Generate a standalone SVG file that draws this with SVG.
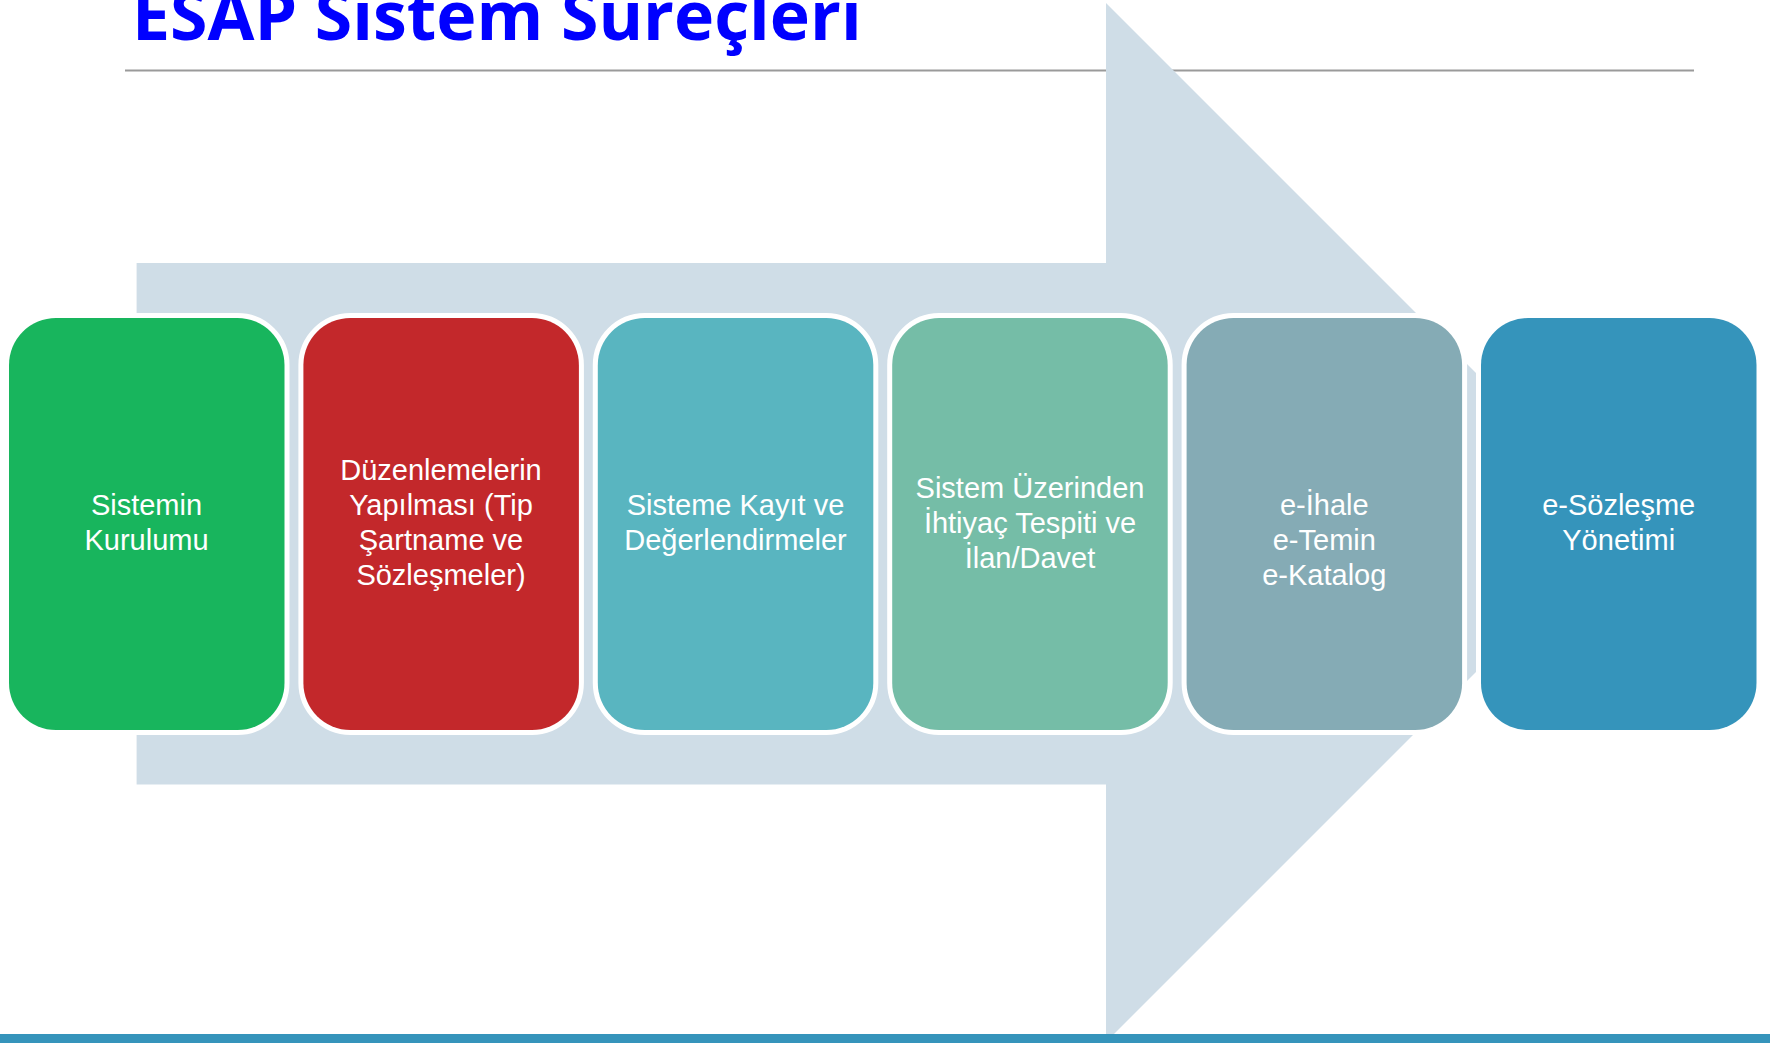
<svg xmlns="http://www.w3.org/2000/svg" width="1770" height="1043" viewBox="0 0 1770 1043">
  <style>
    .title { font-family: "Open Sans", "Liberation Sans", sans-serif; font-weight: 700; font-size: 68px; fill: #0000FF; }
    .box { stroke: #FFFFFF; stroke-width: 10; paint-order: stroke; }
    .lbl { font-family: "Liberation Sans", "Noto Sans", sans-serif; font-size: 29px; fill: #FFFFFF; text-anchor: middle; }
  </style>
  <rect x="0" y="0" width="1770" height="1043" fill="#FFFFFF"/>
  <g id="title">
    <text class="title" x="132" y="40">ESAP Sistem Süreçleri</text>
    <line x1="125" y1="70.5" x2="1694" y2="70.5" stroke="#9A9A9A" stroke-width="2"/>
  </g>
  <g id="connectors">
    <polygon id="big-arrow" points="136.6,263 1106,263 1106,3 1625.5,522.5 1106,1042 1106,784.5 136.6,784.5" fill="#CFDDE7"/>
  </g>
  <g id="node1">
    <rect class="box" x="9" y="318" width="275.5" height="412" rx="47" ry="47" fill="#18B55D"/>
    <text class="lbl" x="146.5" y="515">Sistemin</text>
    <text class="lbl" x="146.5" y="550">Kurulumu</text>
  </g>
  <g id="node2">
    <rect class="box" x="303.4" y="318" width="275.5" height="412" rx="47" ry="47" fill="#C3282B"/>
    <text class="lbl" x="441" y="480">Düzenlemelerin</text>
    <text class="lbl" x="441" y="515">Yapılması (Tip</text>
    <text class="lbl" x="441" y="550">Şartname ve</text>
    <text class="lbl" x="441" y="585">Sözleşmeler)</text>
  </g>
  <g id="node3">
    <rect class="box" x="597.8" y="318" width="275.5" height="412" rx="47" ry="47" fill="#59B5C0"/>
    <text class="lbl" x="735.5" y="515">Sisteme Kayıt ve</text>
    <text class="lbl" x="735.5" y="550">Değerlendirmeler</text>
  </g>
  <g id="node4">
    <rect class="box" x="892.2" y="318" width="275.5" height="412" rx="47" ry="47" fill="#75BDA7"/>
    <text class="lbl" x="1030" y="497.5">Sistem Üzerinden</text>
    <text class="lbl" x="1030" y="532.5">İhtiyaç Tespiti ve</text>
    <text class="lbl" x="1030" y="567.5">İlan/Davet</text>
  </g>
  <g id="node5">
    <rect class="box" x="1186.6" y="318" width="275.5" height="412" rx="47" ry="47" fill="#85ABB5"/>
    <text class="lbl" x="1324.3" y="515">e-İhale</text>
    <text class="lbl" x="1324.3" y="550">e-Temin</text>
    <text class="lbl" x="1324.3" y="585">e-Katalog</text>
  </g>
  <g id="node6">
    <rect class="box" x="1481" y="318" width="275.5" height="412" rx="47" ry="47" fill="#3594BB"/>
    <text class="lbl" x="1618.7" y="515">e-Sözleşme</text>
    <text class="lbl" x="1618.7" y="550">Yönetimi</text>
  </g>
  <rect id="bottom-bar" x="0" y="1034" width="1770" height="9" fill="#3594BB"/>
</svg>
